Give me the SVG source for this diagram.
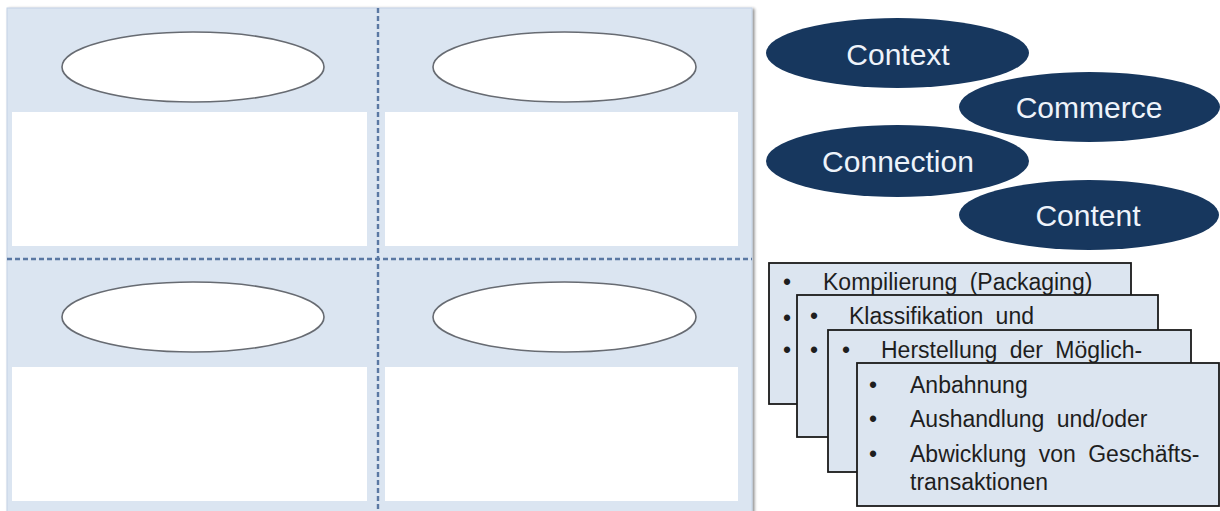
<svg xmlns="http://www.w3.org/2000/svg" width="1220" height="511" viewBox="0 0 1220 511">
  <defs>
    <filter id="shadow" x="-5%" y="-5%" width="110%" height="110%">
      <feGaussianBlur in="SourceAlpha" stdDeviation="1.5"/>
      <feOffset dx="2" dy="1"/>
      <feComponentTransfer><feFuncA type="linear" slope="0.45"/></feComponentTransfer>
      <feMerge><feMergeNode/><feMergeNode in="SourceGraphic"/></feMerge>
    </filter>
  </defs>
  <style>
    .panel { fill: #dbe5f1; stroke: #c3d2e6; stroke-width: 1; }
    .pane { fill: #ffffff; }
    .slot { fill: #ffffff; stroke: #676b72; stroke-width: 1.6; }
    .divider { stroke: #5a78a3; stroke-width: 2.4; stroke-dasharray: 5 3; fill: none; }
    .term { fill: #17375e; }
    .term-label { font-family: "Liberation Sans", Arial, sans-serif; font-size: 30px; fill: #eef3fa; text-anchor: middle; }
    .card { fill: #dce5f0; stroke: #1a1a1a; stroke-width: 1.8; }
    .card-text { font-family: "Liberation Sans", Arial, sans-serif; font-size: 23px; fill: #1e1e1e; word-spacing: 6px; }
  </style>

  <rect width="1220" height="511" fill="#ffffff"/>

  <!-- four-quadrant panel -->
  <g id="panel">
    <rect class="panel" x="7" y="8" width="745" height="510" filter="url(#shadow)"/>
    <rect class="pane" x="12" y="112" width="355" height="134"/>
    <rect class="pane" x="385" y="112" width="353" height="134"/>
    <rect class="pane" x="12" y="367" width="355" height="134"/>
    <rect class="pane" x="385" y="367" width="353" height="134"/>
  </g>

  <g id="connectors">
    <line class="divider" x1="378" y1="8" x2="378" y2="511"/>
    <line class="divider" x1="7" y1="259" x2="752" y2="259"/>
  </g>

  <g id="slot-top-left"><ellipse class="slot" cx="193" cy="67" rx="131" ry="35"/></g>
  <g id="slot-top-right"><ellipse class="slot" cx="564.5" cy="67" rx="131.5" ry="35"/></g>
  <g id="slot-bottom-left"><ellipse class="slot" cx="193" cy="317" rx="131" ry="35"/></g>
  <g id="slot-bottom-right"><ellipse class="slot" cx="564.5" cy="317" rx="131.5" ry="35"/></g>

  <!-- the four C terms -->
  <g id="context">
    <ellipse class="term" cx="897.5" cy="53" rx="131.5" ry="35"/>
    <text class="term-label" x="898" y="65">Context</text>
  </g>
  <g id="commerce">
    <ellipse class="term" cx="1089.5" cy="107" rx="130.5" ry="35"/>
    <text class="term-label" x="1089" y="118">Commerce</text>
  </g>
  <g id="connection">
    <ellipse class="term" cx="897.5" cy="161" rx="131.5" ry="36"/>
    <text class="term-label" x="898" y="172">Connection</text>
  </g>
  <g id="content">
    <ellipse class="term" cx="1089" cy="215" rx="130" ry="35"/>
    <text class="term-label" x="1088" y="226">Content</text>
  </g>

  <!-- stacked description cards -->
  <g id="card-context">
    <rect class="card" x="769" y="263" width="362" height="141"/>
    <text class="card-text" x="783" y="290">•</text>
    <text class="card-text" x="823" y="290">Kompilierung (Packaging)</text>
    <text class="card-text" x="783" y="326">•</text>
    <text class="card-text" x="783" y="358">•</text>
  </g>
  <g id="card-commerce">
    <rect class="card" x="797" y="295" width="361" height="142"/>
    <text class="card-text" x="810" y="324">•</text>
    <text class="card-text" x="849" y="324">Klassifikation und</text>
    <text class="card-text" x="810" y="358">•</text>
  </g>
  <g id="card-connection">
    <rect class="card" x="828" y="330" width="363" height="142"/>
    <text class="card-text" x="842" y="358">•</text>
    <text class="card-text" x="881" y="358">Herstellung der Möglich-</text>
  </g>
  <g id="card-content">
    <rect class="card" x="857" y="363" width="362" height="143"/>
    <text class="card-text" x="869" y="393">•</text>
    <text class="card-text" x="910" y="393">Anbahnung</text>
    <text class="card-text" x="869" y="427">•</text>
    <text class="card-text" x="910" y="427">Aushandlung und/oder</text>
    <text class="card-text" x="869" y="462">•</text>
    <text class="card-text" x="910" y="462">Abwicklung von Geschäfts-</text>
    <text class="card-text" x="910" y="490">transaktionen</text>
  </g>
</svg>
